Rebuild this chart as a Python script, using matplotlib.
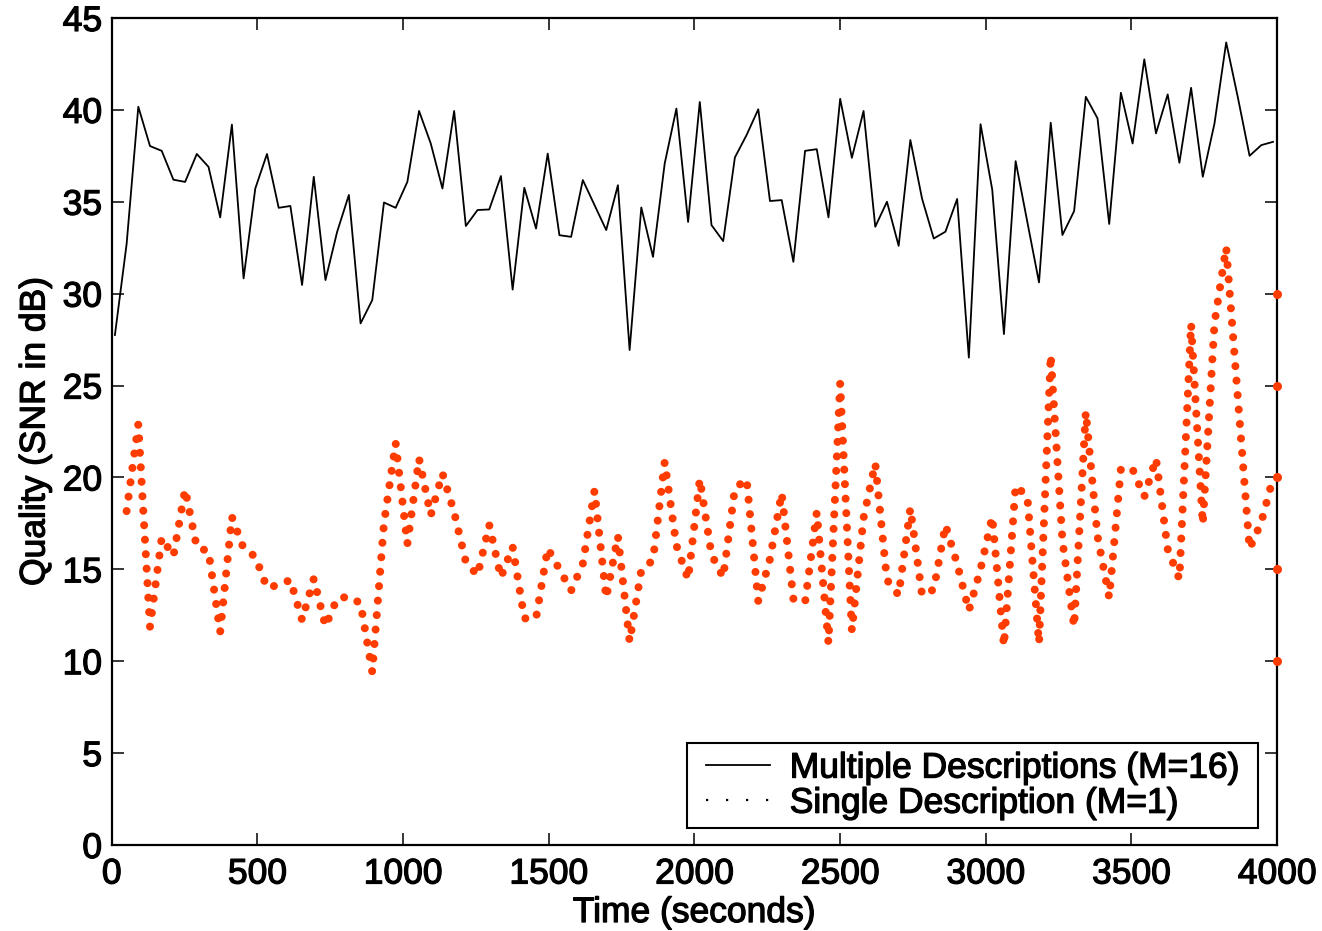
import numpy as np
import matplotlib
matplotlib.use("Agg")
import matplotlib.pyplot as plt
import matplotlib.patheffects as pe
from matplotlib.lines import Line2D
from matplotlib.patches import Rectangle
from matplotlib.transforms import IdentityTransform

plt.rcParams['font.family'] = ['Liberation Sans', 'DejaVu Sans']

# Sample times (seconds): one SNR measurement every ~40 s
time_s = np.linspace(11, 3986, 100)

# Multiple Descriptions (M=16) SNR in dB
snr_multiple = [
    27.75, 32.70, 40.17, 38.03, 37.77, 36.20, 36.08, 37.60, 36.90, 34.15,
    39.20, 30.83, 35.72, 37.60, 34.67, 34.77, 30.47, 36.36, 30.74, 33.37,
    35.37, 28.38, 29.65, 34.96, 34.67, 36.08, 39.94, 38.17, 35.72, 39.94,
    33.68, 34.55, 34.58, 36.40, 30.22, 35.76, 33.54, 37.62, 33.18, 33.09,
    36.18, 34.82, 33.46, 35.90, 26.93, 34.69, 32.00, 37.08, 40.07, 33.90,
    40.43, 33.73, 32.86, 37.41, 38.63, 40.03, 35.04, 35.09, 31.73, 37.77,
    37.86, 34.15, 40.60, 37.39, 39.94, 33.64, 35.00, 32.60, 38.36, 35.17,
    33.00, 33.37, 35.15, 26.52, 39.22, 35.66, 27.80, 37.21, 33.90, 30.61,
    39.30, 33.19, 34.49, 40.71, 39.54, 33.79, 40.93, 38.17, 42.75, 38.72,
    40.84, 37.12, 41.20, 36.36, 39.26, 43.67, 40.67, 37.50, 38.08, 38.26,
]

# Single Description (M=1) SNR in dB, starting from the second sample time
snr_single = [
    18.17, 22.89, 11.86, 16.72, 15.72, 19.35, 16.20, 15.98, 11.59,
    17.85, 16.14, 15.69, 14.00, 14.15, 14.42, 12.24, 14.49, 11.90, 13.42,
    13.51, 13.15, 9.41, 17.50, 21.87, 16.38, 21.02, 17.94, 20.22, 18.10,
    15.40, 14.67, 17.41, 14.56, 16.23, 12.33, 12.33, 16.14, 15.00, 13.84,
    15.30, 19.28, 13.44, 16.81, 11.06, 14.96, 15.50, 20.84, 16.30, 14.45,
    19.91, 15.80, 14.56, 19.40, 19.91, 13.26, 15.56, 19.15, 13.40, 13.20,
    18.10, 11.00, 25.12, 11.66, 17.80, 20.77, 14.42, 13.60, 18.32, 13.60,
    13.90, 17.41, 15.30, 12.75, 15.00, 17.86, 10.83, 19.55, 18.95, 10.97,
    26.66, 16.56, 11.88, 23.57, 16.80, 13.46, 20.47, 20.44, 18.95, 21.03,
    16.10, 14.47, 28.35, 17.46, 28.40, 32.52, 24.30, 16.12, 17.56, 19.95,
]
time_single = time_s[1:]

# Stray dots along the right edge at x = 4000
edge_x = [4000, 4000, 4000, 4000, 4000]
edge_y = [10, 15, 20, 25, 30]

x_ticks = [0, 500, 1000, 1500, 2000, 2500, 3000, 3500, 4000]
y_ticks = [0, 5, 10, 15, 20, 25, 30, 35, 40, 45]

red = '#ff3c00'
fs = 25.5
heavy = [pe.withStroke(linewidth=0.9, foreground='black')]

fig = plt.figure(figsize=(13.22, 9.31), dpi=100)
ax = fig.add_axes([0.0845, 0.0924, 0.8815, 0.8883])

ax.plot(time_s, snr_multiple, color='black', lw=1.3, zorder=3)
ax.plot(time_single, snr_single, color=red, lw=5.8,
        linestyle=(0, (0.001, 1.8)), dash_capstyle='round', zorder=2)
ax.plot(edge_x, edge_y, linestyle='none', marker='o', ms=6.5,
        color=red, mec='none', clip_on=False, zorder=4)

ax.set_xlim(0, 4000)
ax.set_ylim(0, 45)
ax.set_xticks(x_ticks)
ax.set_yticks(y_ticks)
ax.tick_params(direction='in', length=8.5, width=1.1, labelsize=fs,
               top=True, right=True, pad=7)
ax.tick_params(axis='x', pad=9)
for sp in ax.spines.values():
    sp.set_linewidth(1.6)
for lab in ax.get_xticklabels() + ax.get_yticklabels():
    lab.set_path_effects(heavy)

ax.set_xlabel('Time (seconds)', fontsize=fs, labelpad=4, path_effects=heavy)
ax.set_ylabel('Quality (SNR in dB)', fontsize=fs, labelpad=8,
              path_effects=heavy)

handles = [
    Line2D([], [], color='black', lw=1.3),
    Line2D([], [], color='black', lw=1.6, linestyle=(0, (1, 8))),
]
labels = ['Multiple Descriptions (M=16)', 'Single Description (M=1)']
leg = ax.legend(handles, labels, loc='lower right',
                bbox_to_anchor=(0.9735, 0.022), fontsize=fs,
                frameon=False, handlelength=1.8, handletextpad=0.55,
                labelspacing=0.06, borderpad=0.2, borderaxespad=0)
leg.set_zorder(6)
for t in leg.get_texts():
    t.set_path_effects(heavy)

# Legend frame, a little wider than the packed legend box
fig.canvas.draw()
bb = leg.get_window_extent(fig.canvas.get_renderer())
frame = Rectangle((bb.x0 - 12, bb.y0 - 1), bb.width + 24, bb.height + 2,
                  transform=IdentityTransform(), facecolor='white',
                  edgecolor='black', lw=1.5, zorder=5, clip_on=False)
ax.add_artist(frame)

fig.savefig('out.png', dpi=100)
